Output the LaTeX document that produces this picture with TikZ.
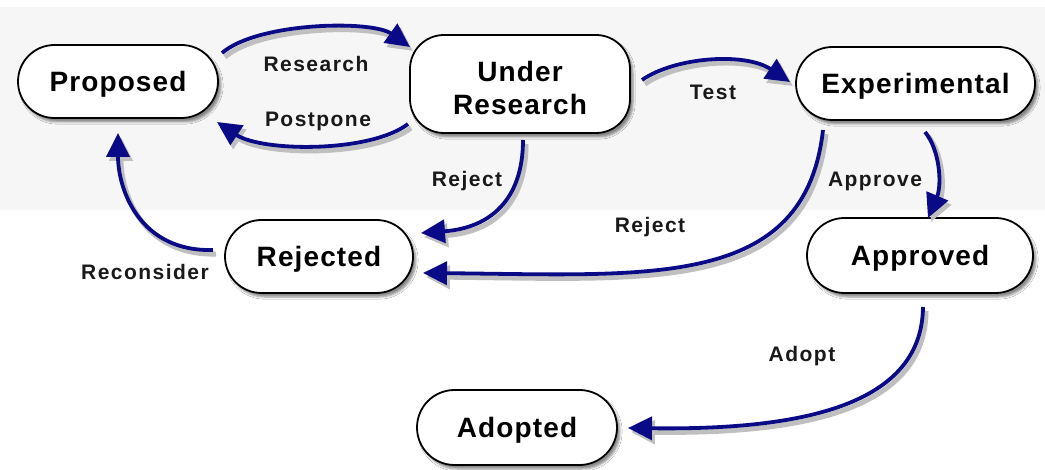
\documentclass[tikz,border=0pt]{standalone}
\usepackage{fontspec}
\setmainfont{Liberation Sans}
\newfontfamily\nodefont[LetterSpace=4]{Liberation Sans}
\newfontfamily\labfont[LetterSpace=7]{Liberation Sans}
\usetikzlibrary{arrows.meta,shapes.misc,shadows.blur}
\definecolor{navy}{RGB}{10,10,135}
\definecolor{bggray}{RGB}{246,246,246}
\tikzset{
  state/.style={rounded rectangle, draw=black, line width=1.8pt, fill=white,
    minimum height=73pt, inner sep=0pt,
    font=\nodefont\bfseries\fontsize{28}{33}\selectfont,
    text height=20pt, text depth=0pt,
    blur shadow={shadow xshift=3pt, shadow yshift=-4pt, shadow blur steps=5, shadow opacity=45}},
  flow/.style={draw=navy, line width=3.8pt, -{Triangle[length=24pt,width=23pt]},
    preaction={draw=black!25, line width=5pt, transform canvas={shift={(3,4)}}}},
  lbl/.style={anchor=base, inner sep=0pt, text=black!90,
    font=\labfont\bfseries\fontsize{21}{24}\selectfont},
}
\begin{document}
\begin{tikzpicture}[x=1pt,y=-1pt]
\useasboundingbox (0,0) rectangle (1045,470);
\fill[white] (0,0) rectangle (1045,470);
\fill[bggray] (0,7) rectangle (1045,210);

% states
\node[state, minimum width=200pt] (prop) at (118,81.5) {Proposed};
\node[state, rectangle, rounded corners=34pt, minimum width=220pt, minimum height=98pt] (ur) at (520,84) {};
\node[align=center, inner sep=0pt, font=\nodefont\bfseries\fontsize{28}{33}\selectfont] (urtext) at ([shift={(0,4)}]ur.center) {Under\\Research};
\node[state, minimum width=239pt] (exp) at (915.5,83.5) {Experimental};
\node[state, minimum width=226pt, minimum height=75pt] (appr) at (920,255.5) {Approved};
\node[state, minimum width=188pt] (rej) at (319,256.5) {Rejected};
\node[state, minimum width=200pt, minimum height=75pt] (adop) at (517,427.5) {Adopted};

% transitions
\draw[flow] ([shift={(104,-28.5)}]prop.center) .. controls +(36,-31) and +(-38,-27) .. ([shift={(-110,-37)}]ur.center);
\draw[flow] ([shift={(-112,40)}]ur.center) .. controls +(-38,29) and +(45,30) .. ([shift={(99,40.5)}]prop.center);
\draw[flow] ([shift={(122,-4)}]ur.center) .. controls +(33,-23) and +(-45,-30) .. ([shift={(-125.5,-1.5)}]exp.center);
\draw[flow] ([shift={(3,56)}]ur.center) .. controls +(0,60) and +(69,-5) .. ([shift={(102,-23.5)}]rej.center);
\draw[flow] ([shift={(-92.5,46.5)}]exp.center) .. controls +(-18,160) and +(227,2) .. ([shift={(104,16.5)}]rej.center);
\draw[flow] ([shift={(9.5,48.5)}]exp.center) .. controls +(15,18) and +(14,-33) .. ([shift={(8,-37.5)}]appr.center);
\draw[flow] ([shift={(-106,-6.5)}]rej.center) .. controls +(-73,2) and +(0,57) .. ([shift={(0,51.5)}]prop.center);
\draw[flow] ([shift={(3,51.5)}]appr.center) .. controls +(-1,103) and +(162,2) .. ([shift={(111,0.5)}]adop.center);

% labels
\node[lbl] (lresearch) at (316,72) {Research};
\node[lbl] (lpostpone) at (318,127) {Postpone};
\node[lbl] (ltest) at (713,100) {Test};
\node[lbl] (lrej1) at (467,187) {Reject};
\node[lbl] (lrej2) at (650,233) {Reject};
\node[lbl] (lappr) at (875,187) {Approve};
\node[lbl] (lrecon) at (145,280) {Reconsider};
\node[lbl] (ladopt) at (802,362) {Adopt};
\end{tikzpicture}
\end{document}
